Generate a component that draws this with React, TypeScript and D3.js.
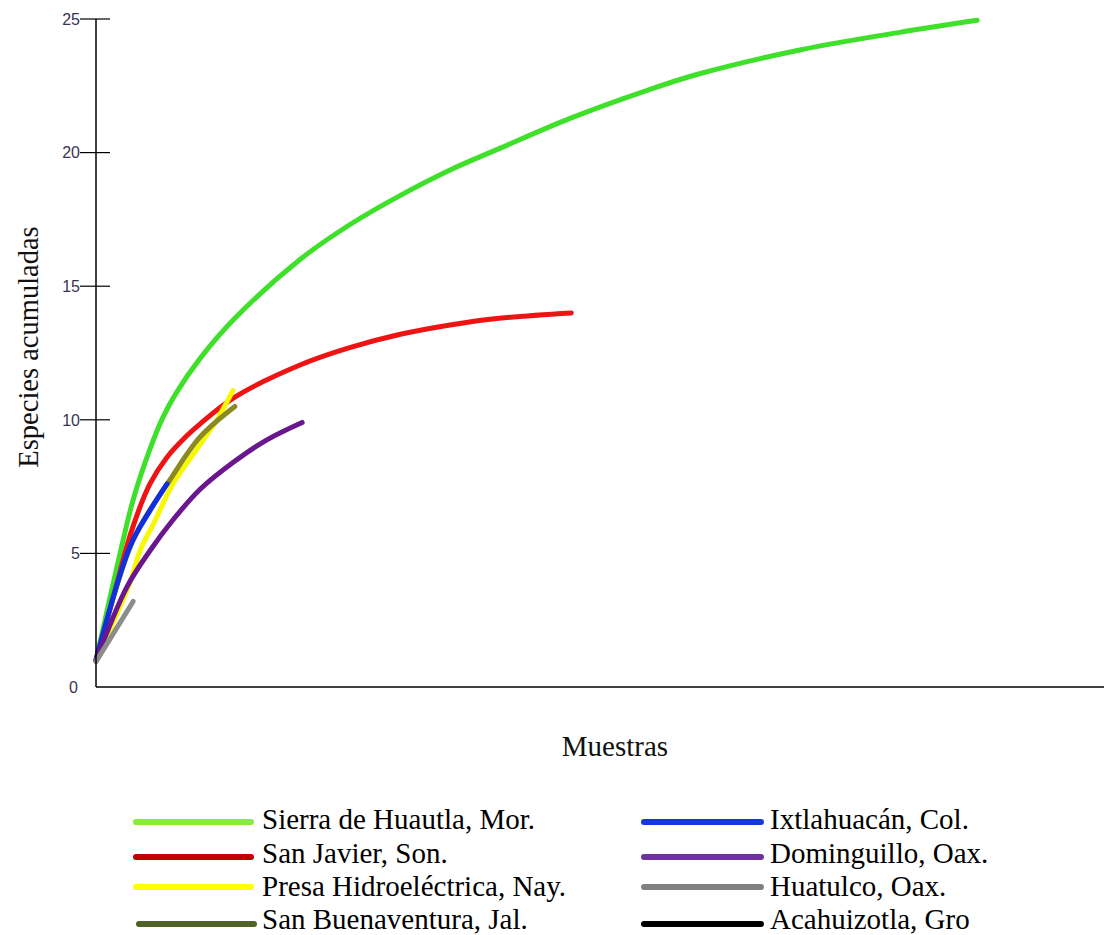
import React from 'react';
import * as d3 from 'd3';

// Curves: [sample, accumulated species]
const sierraHuautla: [number, number][] = [
  [0, 1], [0.97, 5.3], [1.39, 7.0], [2.02, 8.9], [2.51, 10.1], [3.0, 11.0], [3.9, 12.3],
  [5.2, 13.8], [7.64, 16.0], [9.5, 17.3], [11.4, 18.4], [13.26, 19.35], [15.1, 20.15],
  [17.8, 21.3], [20.7, 22.35], [22.6, 22.95], [26.4, 23.85], [30.1, 24.5], [33.0, 24.95],
];
const sanJavier: [number, number][] = [
  [0, 1], [0.71, 3.6], [1.35, 5.9], [2.02, 7.6], [2.66, 8.6], [3.4, 9.4], [3.9, 9.85],
  [5.2, 10.85], [7.64, 12.05], [9.5, 12.7], [11.4, 13.2], [13.26, 13.55], [15.1, 13.8], [17.8, 14.0],
];
const presaHidro: [number, number][] = [
  [0, 1], [1.27, 3.9], [1.65, 5.1], [2.2, 6.2], [2.88, 7.6], [3.78, 8.9], [4.53, 10.0], [5.13, 11.1],
];
const sanBuenaventura: [number, number][] = [
  [0, 1], [1.39, 5.5], [2.77, 7.75], [3.9, 9.36], [5.2, 10.5],
];
const ixtlahuacan: [number, number][] = [
  [0, 1], [1.27, 5.25], [2.02, 6.6], [2.66, 7.6],
];
const dominguillo: [number, number][] = [
  [0, 1], [1.16, 3.75], [2.02, 5.1], [2.88, 6.25], [3.9, 7.4], [5.13, 8.4], [6.4, 9.25], [7.72, 9.9],
];
const huatulco: [number, number][] = [
  [0, 0.95], [1.39, 3.2],
];
const acahuizotla: [number, number][] = [];

const yTicks = [0, 5, 10, 15, 20, 25];

const series = [
  { name: 'Sierra de Huautla, Mor.', data: sierraHuautla, color: '#3ee02a', legend: '#88ee33' },
  { name: 'San Javier, Son.', data: sanJavier, color: '#ee1414', legend: '#c00000' },
  { name: 'Presa Hidroeléctrica, Nay.', data: presaHidro, color: '#f8f800', legend: '#ffff00' },
  { name: 'San Buenaventura, Jal.', data: sanBuenaventura, color: '#8a8a1e', legend: '#4f6228' },
  { name: 'Ixtlahuacán, Col.', data: ixtlahuacan, color: '#1030e0', legend: '#1438e0' },
  { name: 'Dominguillo, Oax.', data: dominguillo, color: '#6a168e', legend: '#7030a0' },
  { name: 'Huatulco, Oax.', data: huatulco, color: '#8c8c8c', legend: '#808080' },
  { name: 'Acahuizotla, Gro', data: acahuizotla, color: '#000000', legend: '#000000' },
];

const W = 1104;
const H = 935;

export default function App() {
  const x = d3.scaleLinear().domain([0, 37.75]).range([96, 1104]);
  const y = d3.scaleLinear().domain([0, 25]).range([687, 19]);

  const line = d3.line<[number, number]>()
    .x(d => x(d[0]))
    .y(d => y(d[1]))
    .curve(d3.curveCatmullRom.alpha(0.5));

  const serif = '"Liberation Serif", "Times New Roman", serif';
  const sans = '"Liberation Sans", Arial, sans-serif';

  const left = series.slice(0, 4);
  const right = series.slice(4);
  const baseY = [829, 863, 896, 929];
  const lineY = [822, 857, 887, 924];

  return (
    <svg width={W} height={H} style={{ position: 'absolute', left: 0, top: 0, background: '#fff' }}>
      {/* curves */}
      {series.filter(s => s.data.length > 1).map(s => (
        <path key={s.name} d={line(s.data) || ''} fill="none" stroke={s.color}
          strokeWidth={5} strokeLinecap="round" strokeLinejoin="round" />
      ))}

      {/* axes */}
      <line x1={96} x2={96} y1={y(25)} y2={y(0)} stroke="#000" strokeWidth={1.5} />
      <line x1={96} x2={1104} y1={y(0)} y2={y(0)} stroke="#000" strokeWidth={1.5} />
      {yTicks.map(t => (
        <g key={t}>
          {t > 0 && <line x1={80} x2={110} y1={y(t)} y2={y(t)} stroke="#000" strokeWidth={1.2} />}
          <text x={t === 0 ? 78 : 80} y={y(t)} dy="0.36em" textAnchor="end"
            fontFamily={sans} fontSize={16} fill="#3a3350">{t}</text>
        </g>
      ))}

      <text x={615} y={756} textAnchor="middle" fontFamily={serif} fontSize={29} fill="#111">Muestras</text>
      <text transform="translate(38,347) rotate(-90)" textAnchor="middle" fontFamily={serif}
        fontSize={28.5} fill="#111">Especies acumuladas</text>

      {/* legend */}
      {left.map((s, i) => (
        <g key={s.name}>
          <line x1={i === 3 ? 139 : 136} x2={i === 3 ? 254 : 251} y1={lineY[i]} y2={lineY[i]}
            stroke={s.legend} strokeWidth={6} strokeLinecap="round" />
          <text x={262} y={baseY[i]} fontFamily={serif} fontSize={29} fill="#000">{s.name}</text>
        </g>
      ))}
      {right.map((s, i) => (
        <g key={s.name}>
          <line x1={644} x2={761} y1={lineY[i]} y2={lineY[i]}
            stroke={s.legend} strokeWidth={6} strokeLinecap="round" />
          <text x={770} y={baseY[i]} fontFamily={serif} fontSize={29} fill="#000">{s.name}</text>
        </g>
      ))}
    </svg>
  );
}
